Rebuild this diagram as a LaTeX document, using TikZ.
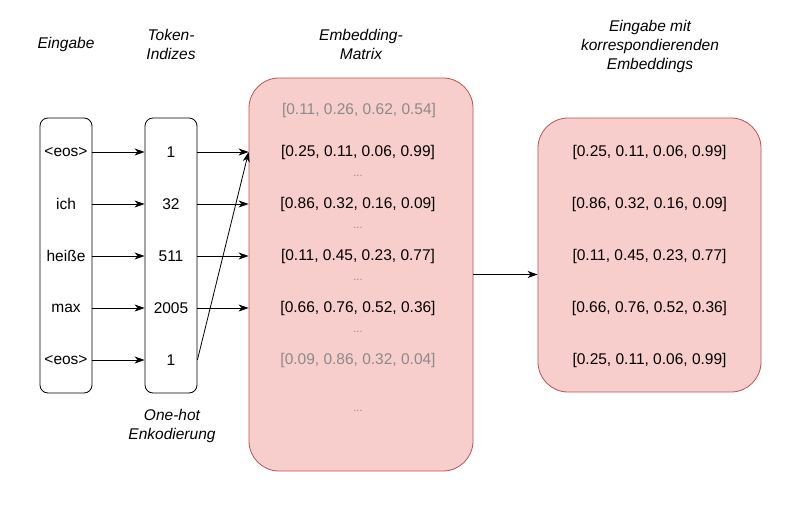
\documentclass[tikz,border=0pt]{standalone}
\usepackage{fontspec}
\setmainfont{Liberation Sans}
\usetikzlibrary{arrows.meta}

\definecolor{embfill}{HTML}{F8CECC}
\definecolor{embdraw}{HTML}{B85450}
\definecolor{greytext}{HTML}{8A8A8A}

\newcommand{\diafont}{\fontsize{15.5}{19}\selectfont}

\tikzset{
    colbox/.style={draw, thick, rounded corners=8pt, minimum width=52pt, minimum height=275pt},
    embbox/.style={draw=embdraw, fill=embfill, thick, rounded corners=30pt},
    caption/.style={font=\diafont\itshape, align=center},
    arr/.style={-{Stealth[length=10pt,width=7pt,inset=3pt]}, thick},
    faded/.style={text=greytext},
    gap/.style={text=greytext, font=\fontsize{11}{13}\selectfont}
}

\begin{document}
\begin{tikzpicture}[x=1pt, y=-1pt, font=\diafont]
    \useasboundingbox (0,0) rectangle (800,511);

    % headings
    \node[caption] (capin) at (66,44) {Eingabe};
    \node[caption] (captok) at (171,44) {Token-\\Indizes};
    \node[caption] (capmat) at (361,44) {Embedding-\\Matrix};
    \node[caption] (capout) at (650,46) {Eingabe mit\\korrespondierenden\\Embeddings};
    \node[caption] (caphot) at (172,426) {One-hot\\Enkodierung};

    % boxes
    \node[colbox] (input) at (66,255.5) {};
    \node[colbox] (token) at (171,255.5) {};
    \node[embbox, minimum width=224pt, minimum height=393pt] (matrix) at (361,274.5) {};
    \node[embbox, minimum width=223pt, minimum height=274pt] (output) at (649.5,255) {};

    % input words
    \node (w1) at (66,152) {<eos>};
    \node (w2) at (66,204) {ich};
    \node (w3) at (66,256) {heiße};
    \node (w4) at (66,308) {max};
    \node (w5) at (66,360) {<eos>};

    % token indices
    \node (t1) at (171,152) {1};
    \node (t2) at (171,204) {32};
    \node (t3) at (171,256) {511};
    \node (t4) at (171,308) {2005};
    \node (t5) at (171,360) {1};

    % embedding matrix rows
    \node[faded] (m0) at (359,110) {[0.11, 0.26, 0.62, 0.54]};
    \node (m1) at (358,152) {[0.25, 0.11, 0.06, 0.99]};
    \node[gap] (d1) at (358,176) {...};
    \node (m2) at (358,204) {[0.86, 0.32, 0.16, 0.09]};
    \node[gap] (d2) at (358,228) {...};
    \node (m3) at (358,256) {[0.11, 0.45, 0.23, 0.77]};
    \node[gap] (d3) at (358,280) {...};
    \node (m4) at (358,308) {[0.66, 0.76, 0.52, 0.36]};
    \node[gap] (d4) at (358,332) {...};
    \node[faded] (m5) at (358,360) {[0.09, 0.86, 0.32, 0.04]};
    \node[gap] (d5) at (358,411) {...};

    % output rows
    \node (o1) at (649.5,152) {[0.25, 0.11, 0.06, 0.99]};
    \node (o2) at (649.5,204) {[0.86, 0.32, 0.16, 0.09]};
    \node (o3) at (649.5,256) {[0.11, 0.45, 0.23, 0.77]};
    \node (o4) at (649.5,308) {[0.66, 0.76, 0.52, 0.36]};
    \node (o5) at (649.5,360) {[0.25, 0.11, 0.06, 0.99]};

    % connectors
    \foreach \i in {1,...,5}
        \draw[arr] (input.east |- w\i) -- (token.west |- t\i);
    \foreach \i in {1,...,4}
        \draw[arr] (token.east |- t\i) -- (matrix.west |- m\i);
    \draw[arr] (token.east |- t5) -- (matrix.west |- m1);
    \draw[arr] (matrix.east) -- (output.west |- matrix.east);
\end{tikzpicture}
\end{document}
